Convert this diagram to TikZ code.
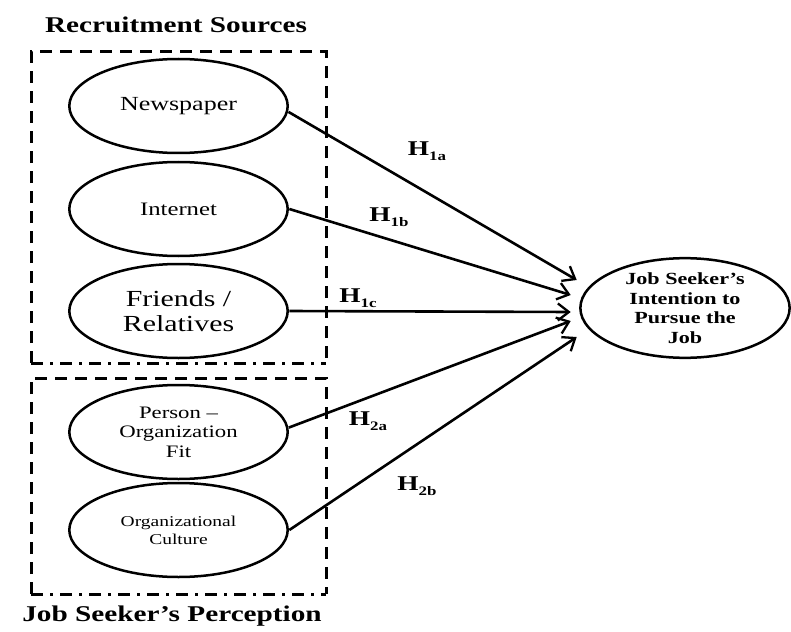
\documentclass[tikz,border=0pt]{standalone}
\usepackage{fontspec}
\setmainfont{Liberation Serif}
\usetikzlibrary{arrows.meta,shapes.geometric,calc}
\begin{document}
\begin{tikzpicture}[x=1pt,y=-1pt,
  oval/.style={ellipse,draw,line width=2.5pt,inner sep=0pt,minimum width=168pt,minimum height=94pt,xscale=1.3,align=center},
  arr/.style={line width=2.6pt,-{Straight Barb[length=11pt,width=17pt,line width=2.3pt]}},
  hlab/.style={anchor=base,xscale=1.3,inner sep=0pt,font=\fontsize{21}{24}\selectfont\bfseries},
  ttl/.style={xscale=1.3,inner sep=0pt,font=\fontsize{22.5}{26}\selectfont\bfseries},
  dbox/.style={line width=3pt,dash pattern=on 12pt off 8pt},
  ddbox/.style={line width=3pt,dash pattern=on 12pt off 7pt on 3pt off 7pt}]
\useasboundingbox[fill=white] (0,0) rectangle (791,631);
% titles
\node[ttl] (t1) at (176,25) {Recruitment Sources};
\node[ttl] (t2) at (172,616) {Job Seeker’s Perception};
% boxes
\draw[dbox] (31,363) -- (31,52) -- (326,52) -- (326,363);
\draw[ddbox] (31,363) -- (326,363);
\draw[dbox] (31,594) -- (31,378) -- (326,378) -- (326,594);
\draw[ddbox] (31,594) -- (326,594);
% ellipses
\node[oval,font=\fontsize{20}{24}\selectfont] (np) at (178.5,106) {Newspaper};
\node[oval,font=\fontsize{19}{23}\selectfont] (in) at (178.5,209) {Internet};
\node[oval,font=\fontsize{23}{25}\selectfont] (fr) at (178.5,311) {Friends /\\Relatives};
\node[oval,font=\fontsize{17.5}{19.5}\selectfont] (po) at (178.5,432) {Person –\\Organization\\Fit};
\node[oval,font=\fontsize{15}{18}\selectfont] (oc) at (178.5,530) {Organizational\\Culture};
\node[oval,minimum width=161pt,minimum height=92pt,font=\fontsize{17}{19.5}\selectfont\bfseries] (tg) at (685,308) {Job Seeker’s\\Intention to\\Pursue the\\Job};
% arrow ends
\coordinate (e1a) at ($(tg.west)+(-2,-28)$);
\coordinate (e1b) at ($(tg.west)+(-8,-13)$);
\coordinate (e1c) at ($(tg.west)+(-8,4)$);
\coordinate (e2a) at ($(tg.west)+(-8,13)$);
\coordinate (e2b) at ($(tg.west)+(-2,29)$);
% arrows
\draw[arr] (np.-4) -- (e1a);
\draw[arr] (in.east) -- (e1b);
\draw[arr] (fr.east) -- (e1c);
\draw[arr] (po.3) -- (e2a);
\draw[arr] (oc.east) -- (e2b);
% labels
\node[hlab] (h1a) at (427,156) {H\raisebox{-5pt}{\fontsize{13}{13}\selectfont 1a}};
\node[hlab] (h1b) at (389,221) {H\raisebox{-5pt}{\fontsize{13}{13}\selectfont 1b}};
\node[hlab] (h1c) at (358,302) {H\raisebox{-5pt}{\fontsize{13}{13}\selectfont 1c}};
\node[hlab] (h2a) at (368,425) {H\raisebox{-5pt}{\fontsize{13}{13}\selectfont 2a}};
\node[hlab] (h2b) at (417,490) {H\raisebox{-5pt}{\fontsize{13}{13}\selectfont 2b}};
\end{tikzpicture}
\end{document}
